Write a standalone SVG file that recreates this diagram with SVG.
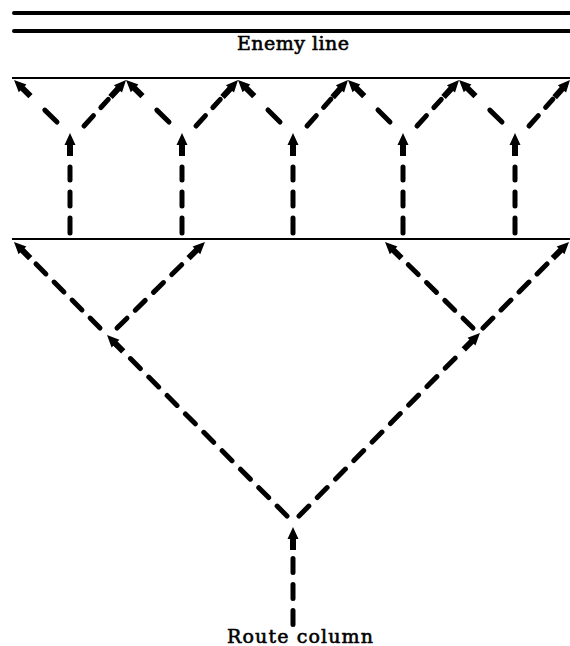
<svg xmlns="http://www.w3.org/2000/svg" width="570" height="646" viewBox="0 0 570 646">
<style>
.bg{fill:#fff}
.heavy{stroke:#000;stroke-width:4;stroke-linecap:round;fill:none}
.thin{stroke:#000;stroke-width:2;fill:none}
.lbl{font-family:"DejaVu Serif","Liberation Serif",serif;font-size:19px;fill:#000;stroke:#000;stroke-width:0.6;text-anchor:middle}
.d{stroke:#000;stroke-width:5;stroke-linecap:round;fill:none;marker-end:url(#ah)}
.v3{stroke-dasharray:15 12 14 12 13 60}
.ul{stroke-dasharray:17 80}
.ur{stroke-dasharray:14 11 11 60}
.l4{stroke-dasharray:14 11.5 14 11.5 14 11.5 14 60}
.m9{stroke-dasharray:14 12 14 12 14 12 14 12 14 12 14 12 14 12 14 12 14 80}
.mv{stroke-dasharray:14 12 14 12 14 60}
</style>
<defs>
<marker id="ah" markerUnits="userSpaceOnUse" markerWidth="26" markerHeight="14" refX="5" refY="7" orient="auto" overflow="visible">
<path d="M0,4 L11,4 L11,1.5 L23,7 L11,12.5 L11,10 L0,10 Z" fill="#000"/>
</marker>
</defs>
<rect class="bg" x="0" y="0" width="570" height="646"/>
<g id="enemy-line">
<line class="heavy" x1="14" y1="13" x2="572" y2="13"/>
<line class="heavy" x1="14" y1="31" x2="572" y2="31"/>
<text class="lbl" x="293" y="50" textLength="112" lengthAdjust="spacing">Enemy line</text>
</g>
<g id="upper-line">
<line class="thin" x1="12" y1="78" x2="570" y2="78"/>
</g>
<g id="lower-line">
<line class="thin" x1="12" y1="239" x2="570" y2="239"/>
</g>
<g id="route-column">
<text class="lbl" x="300" y="643" textLength="146" lengthAdjust="spacing">Route column</text>
</g>
<g id="connectors">
<!-- main route column -->
<path class="d mv" d="M293,624.5 L293,545"/>
<path class="d m9" d="M287,516 L119.7,347.8"/>
<path class="d m9" d="M299,516 L467.3,345.8"/>
<!-- lower band -->
<path class="d l4" d="M100,328 L26.7,254.7"/>
<path class="d l4" d="M117,328 L192.1,254.6"/>
<path class="d l4" d="M473,328 L397.9,254.6"/>
<path class="d l4" d="M483,328 L556.3,254.7"/>
<!-- upper band verticals -->
<path class="d v3" d="M70,233 L70,151"/>
<path class="d v3" d="M182,233 L182,151"/>
<path class="d v3" d="M293,233 L293,151"/>
<path class="d v3" d="M403,233 L403,151"/>
<path class="d v3" d="M515,233 L515,151"/>
<!-- upper band left arms -->
<path class="d ul" d="M57,122 L26.9,92.6"/>
<path class="d ul" d="M169,122 L138.9,92.6"/>
<path class="d ul" d="M280,122 L250.7,92.7"/>
<path class="d ul" d="M390,122 L360.7,92.7"/>
<path class="d ul" d="M502,122 L471.9,92.6"/>
<!-- upper band right arms -->
<path class="d ur" d="M84,126 L113.9,93.3"/>
<path class="d ur" d="M196,126 L225.9,93.3"/>
<path class="d ur" d="M307,126 L336,93.4"/>
<path class="d ur" d="M417,126 L446.9,93.3"/>
<path class="d ur" d="M529,126 L558,93.4"/>
</g>
</svg>
